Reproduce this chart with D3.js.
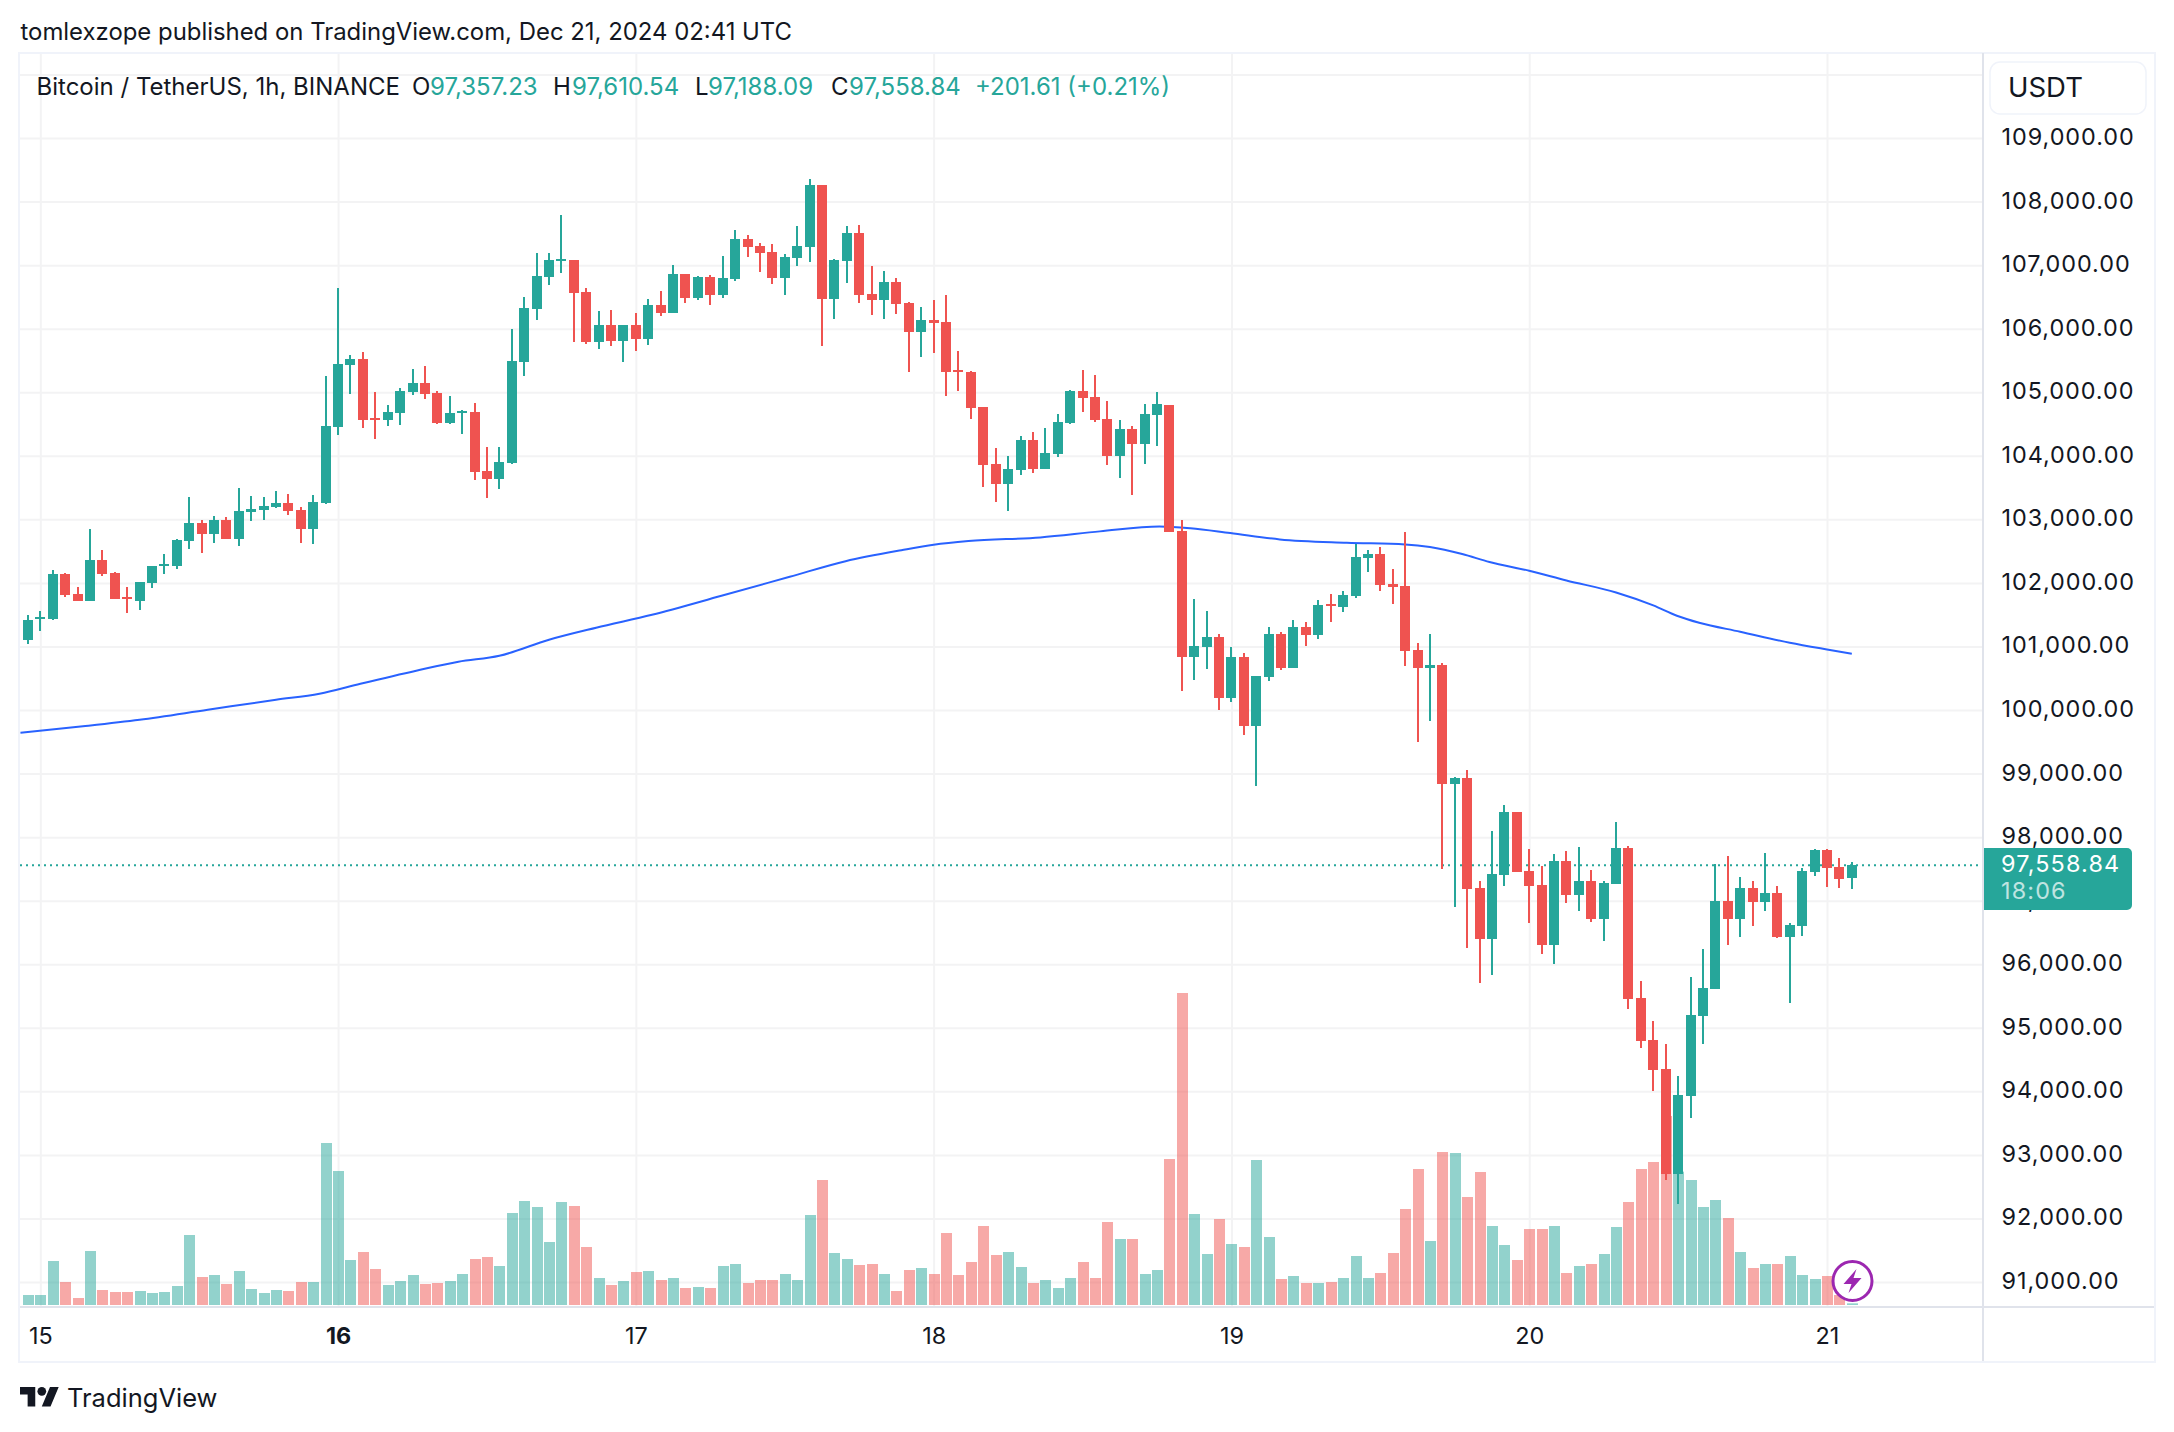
<!DOCTYPE html>
<html><head><meta charset="utf-8">
<script src="https://cdn.jsdelivr.net/npm/d3@7"></script>
<style>
html,body{margin:0;padding:0;background:#fff}
svg{display:block}
text{font-family:Inter,"Noto Sans",sans-serif;fill:#131722}
</style></head><body>
<div id="chart"></div>
<script>
const firstHour = -1;
const opens = [
101099,101429,101429,102136,101822,101712,102356,102152,101775,101712,
101995,102262,102262,102654,102937,102764,102984,102686,103110,103141,
103188,103251,103141,102843,103262,104458,105434,105529,104600,104568,
104679,105009,105151,104993,104521,104679,104694,103766,103640,103892,
105481,106316,106819,107071,107087,106583,105796,106064,105812,106064,
105843,106379,106253,106867,106489,106819,106536,106788,107418,107307,
107213,106804,107118,107292,108268,106473,107071,107512,106552,106457,
106741,106410,105954,106143,106111,105356,105324,104773,103876,103561,
103781,104254,103797,104033,104521,105025,104921,104576,103995,104419,
104183,104639,104796,102817,100838,100995,101152,100193,100838,99754,
100523,101199,100665,101309,101183,101670,101623,101796,102393,102455,
101984,101953,100947,100665,100702,98832,98927,97199,96398,97403,
98393,97466,97246,96303,97623,97089,97309,96712,97262,97827,
95466,94806,94351,92701,93927,95183,95607,96994,96712,97199,
96979,97120,96429,96602,97450,97796,97529,97357.23];
const closes = [
101413,101461,102136,101806,101712,102356,102136,101743,101743,102010,
102262,102293,102670,102937,102764,102984,102686,103126,103157,103204,
103251,103126,102843,103267,104474,105450,105529,104568,104568,104694,
105025,105151,104978,104521,104679,104710,103750,103640,103907,105497,
106331,106835,107087,107103,106568,105796,106064,105812,106064,105843,
106379,106253,106867,106489,106819,106536,106804,107418,107292,107197,
106804,107134,107307,108268,106473,107087,107512,106536,106457,106741,
106394,105954,106143,106095,105324,105324,104757,103860,103561,103797,
104254,103797,104049,104537,105025,104915,104560,103995,104419,104183,
104654,104812,102801,100838,101010,101152,100193,100838,99754,100539,
101199,100665,101309,101183,101654,101638,101811,102408,102455,101968,
101937,100932,100665,100712,98832,98927,97183,96398,97419,98393,
97450,97230,96303,97623,97089,97309,96712,97277,97827,95450,
94790,94335,92701,93942,95199,95623,96994,96712,97199,96979,
97120,96429,96613,97466,97796,97513,97340,97558.84];
const highs = [
101492,101555,102199,102152,101932,102843,102513,102167,101932,102010,
102262,102450,102686,103346,102984,103047,103031,103487,103361,103346,
103440,103393,103188,103377,105261,106646,105592,105639,105009,104805,
105072,105371,105418,105025,104946,104726,104836,104143,104143,106001,
106505,107197,107197,107795,107087,106646,106284,106300,106064,106253,
106473,106599,107008,106867,106835,106851,107150,107559,107481,107355,
107339,107181,107622,108362,108268,107103,107622,107638,106993,106914,
106804,106426,106347,106457,106536,105655,105340,104773,104127,104002,
104317,104380,104443,104663,105041,105356,105277,104859,104560,104466,
104812,105000,104796,102989,101748,101560,101199,100995,100900,100539,
101309,101230,101419,101387,101733,101827,101874,102612,102518,102565,
102220,102801,101057,101199,100733,98942,99052,97309,98094,98503,
98393,97811,97544,97733,97780,97843,97482,97309,98235,97859,
95733,95105,94743,94241,95796,96236,97576,97701,97372,97309,
97749,97230,96644,97513,97811,97811,97670,97610.54];
const lows = [
101036,101241,101413,101775,101712,101712,102105,101743,101523,101571,
101916,102136,102215,102529,102466,102623,102686,102576,102969,102984,
103173,103063,102623,102607,103246,104332,104978,104443,104269,104474,
104490,104962,104899,104505,104505,104348,103624,103341,103482,103876,
105261,106143,106693,106882,105796,105765,105686,105733,105481,105655,
105749,106205,106253,106410,106457,106379,106489,106756,107134,106898,
106709,106536,106993,107056,105733,106158,106725,106410,106221,106158,
106237,105324,105560,105623,104946,105025,104584,103514,103278,103136,
103703,103734,103797,103986,104505,104694,104537,103853,103649,103382,
103869,104152,102801,100303,100476,100649,100005,100130,99612,98811,
100460,100633,100665,101010,101120,101387,101544,101764,102173,101874,
101670,100696,99502,99822,97497,96900,96256,95706,95832,97230,
97450,96649,96162,96005,96963,96837,96665,96366,97262,95293,
94680,94005,92607,92230,93581,94743,95607,96298,96429,96602,
96837,96413,95387,96445,97387,97214,97199,97188.09];
const volumes = [
30,30,132,69,21,162,45,39,39,42,
36,39,57,210,84,90,63,102,48,36,
45,42,69,69,486,402,135,159,108,60,
72,90,63,66,72,93,138,144,117,276,
312,294,189,309,297,174,81,60,72,99,
102,75,81,51,54,51,117,123,66,75,
75,93,75,270,375,156,138,120,123,93,
42,105,111,93,216,90,129,237,150,159,
114,66,75,51,81,129,81,249,198,198,
93,105,438,936,273,153,258,183,174,435,
204,78,87,66,66,69,81,147,81,96,
156,288,408,192,459,456,324,399,237,180,
135,228,228,237,96,117,123,153,234,309,
408,429,567,400,375,294,315,261,159,111,
123,123,147,90,78,87,30,5];
const maHours = [-1.6,3.44,8,13.5,19,22.5,25.8,30.3,33.7,37,41,44.8,49.3,54.9,60.4,64.9,69.4,72,74.8,80.6,85.4,90.2,92.7,95.9,99.9,105.3,110,112,114.6,116.8,120,123,127,130,131.9,133.7,137,141,144,146];
const maValues = [99642,99744,99847,100004,100161,100256,100413,100618,100760,100854,101106,101295,101499,101798,102097,102342,102515,102601,102659,102716,102811,102889,102861,102785,102685,102633,102606,102565,102455,102329,102192,102039,101850,101646,101484,101373,101232,101059,100953,100886];
const priceTicks = [109000,108000,107000,106000,105000,104000,103000,102000,101000,100000,99000,98000,97000,96000,95000,94000,93000,92000,91000];
const gridPrices = [110000].concat(priceTicks);
const dayHours = [0,24,48,72,96,120,144];
const dayLabels = ["15","16","17","18","19","20","21"];
const boldDay = "16";
const lastPrice = 97558.84;
const countdown = "18:06";
const headerText = "tomlexzope published on TradingView.com, Dec 21, 2024 02:41 UTC";
const symbolText = "Bitcoin / TetherUS, 1h, BINANCE";

const W=2174,H=1432;
const L=20,PR=1983,R=2154,T=53,AXY=1307,B=1361;
const UP="#26a69a",DOWN="#ef5350",GRID="#f3f3f4",FRAME="#f0f3fa",SEP="#e0e3eb",INK="#131722";
const x=d3.scaleLinear().domain([0,144]).range([40.3,1827]);
const y=d3.scaleLinear().domain([108000,91000]).range([201.6,1282]);
const vh=d3.scaleLinear().domain([0,936]).range([1305,993]);
const svg=d3.select("#chart").append("svg").attr("width",W).attr("height",H).attr("viewBox",`0 0 ${W} ${H}`);
svg.append("rect").attr("width",W).attr("height",H).attr("fill","#fff");

// grid via axes
const gy=svg.append("g").attr("transform",`translate(${PR},0)`)
 .call(d3.axisLeft(y).tickValues(gridPrices).tickSize(PR-L).tickFormat(""));
gy.select(".domain").remove();
gy.selectAll("line").attr("stroke",GRID).attr("stroke-width",2);
const gx=svg.append("g").attr("transform",`translate(0,${AXY})`)
 .call(d3.axisTop(x).tickValues(dayHours).tickSize(AXY-T).tickFormat(""));
gx.select(".domain").remove();
gx.selectAll("line").attr("stroke",GRID).attr("stroke-width",2);

// volume
const idx=d3.range(opens.length);
const cx=i=>Math.round(x(firstHour+i));
svg.append("g").selectAll("rect").data(idx).join("rect")
 .attr("x",i=>cx(i)-5).attr("width",11)
 .attr("y",i=>vh(volumes[i])).attr("height",i=>vh(0)-vh(volumes[i]))
 .attr("fill",i=>closes[i]>=opens[i]?UP:DOWN).attr("fill-opacity",.5);

// moving average
svg.append("path").attr("fill","none").attr("stroke","#2962ff").attr("stroke-width",2)
 .attr("d",d3.line().x(d=>x(d[0])).y(d=>y(d[1])).curve(d3.curveMonotoneX)(maHours.map((h,i)=>[h,maValues[i]])));

// last price line
svg.append("line").attr("x1",L).attr("x2",PR).attr("y1",y(lastPrice)).attr("y2",y(lastPrice))
 .attr("stroke",UP).attr("stroke-width",2).attr("stroke-dasharray","2 4");

// candles
const cg=svg.append("g").attr("shape-rendering","crispEdges");
cg.selectAll("rect.w").data(idx).join("rect").attr("class","w")
 .attr("x",i=>cx(i)-1).attr("width",2)
 .attr("y",i=>Math.round(y(highs[i]))).attr("height",i=>Math.max(1,Math.round(y(lows[i]))-Math.round(y(highs[i]))))
 .attr("fill",i=>closes[i]>=opens[i]?UP:DOWN);
cg.selectAll("rect.b").data(idx).join("rect").attr("class","b")
 .attr("x",i=>cx(i)-5).attr("width",10)
 .attr("y",i=>Math.round(y(Math.max(opens[i],closes[i]))))
 .attr("height",i=>Math.max(2,Math.round(y(Math.min(opens[i],closes[i])))-Math.round(y(Math.max(opens[i],closes[i])))))
 .attr("fill",i=>closes[i]>=opens[i]?UP:DOWN);

// frame
const fr=svg.append("g").attr("shape-rendering","crispEdges");
fr.append("rect").attr("x",L-1).attr("y",T).attr("width",R-L+2).attr("height",B-T+1).attr("fill","none").attr("stroke",FRAME).attr("stroke-width",2);
fr.append("line").attr("x1",PR).attr("x2",PR).attr("y1",T).attr("y2",B).attr("stroke",SEP).attr("stroke-width",2);
fr.append("line").attr("x1",L).attr("x2",R).attr("y1",AXY).attr("y2",AXY).attr("stroke",SEP).attr("stroke-width",2);

// price axis
const ay=svg.append("g").attr("transform","translate(2001.5,-1)")
 .call(d3.axisRight(y).tickValues(priceTicks).tickSize(0).tickPadding(0).tickFormat(d3.format(",.2f")));
ay.select(".domain").remove();
ay.selectAll("text").attr("font-size",23.4).attr("letter-spacing",0.95).style("fill",INK);

// time axis
const ax=svg.append("g").attr("transform",`translate(0,1336)`)
 .call(d3.axisBottom(x).tickValues(dayHours).tickSize(0).tickPadding(0).tickFormat((d,i)=>dayLabels[i]));
ax.select(".domain").remove();
ax.selectAll("text").attr("font-size",23.4).attr("dy","0.35em").attr("y",0)
 .attr("font-weight",(d,i)=>dayLabels[i]===boldDay?700:400).style("fill",INK);
svg.selectAll("g").attr("font-family",null);

// last price tag
svg.append("path").attr("d","M1984 848H2127a5 5 0 0 1 5 5V905a5 5 0 0 1 -5 5H1984Z").attr("fill",UP);
svg.append("text").attr("x",2001).attr("y",864).attr("dy","0.35em").attr("font-size",23.4).attr("letter-spacing",1.15).style("fill","#fff").text(d3.format(",.2f")(lastPrice));
svg.append("text").attr("x",2001).attr("y",891).attr("dy","0.35em").attr("font-size",23.4).attr("letter-spacing",1.15).style("fill","#fff").style("opacity",.7).text(countdown);

// unit button
svg.append("rect").attr("x",1990).attr("y",62).attr("width",156).attr("height",52).attr("rx",10).attr("fill","#fff").attr("stroke",FRAME).attr("stroke-width",1.5);
svg.append("text").attr("x",2008).attr("y",87).attr("dy","0.35em").attr("font-size",27.5).text("USDT");

// header & legend
svg.append("text").attr("x",20.5).attr("y",32).attr("dy","0.35em").attr("font-size",23.9).text(headerText);
const ly=86.5;
const leg=(xp,t,c)=>svg.append("text").attr("x",xp).attr("y",ly).attr("dy","0.35em").attr("font-size",24).style("fill",c||INK).text(t);
leg(36.5,symbolText);
leg(412,"O");leg(430,"97,357.23",UP);
leg(553,"H");leg(572,"97,610.54",UP);
leg(695,"L");leg(708,"97,188.09",UP);
leg(831,"C");leg(849,"97,558.84",UP);
leg(975,"+201.61 (+0.21%)",UP);

// logo
const logo=svg.append("g").attr("transform","translate(20,1382.6) scale(1.09)").attr("fill",INK);
logo.append("path").attr("d","M14 22H7V11H0V4h14v18zM28 22h-8l7.5-18h8L28 22z");
logo.append("circle").attr("cx",20).attr("cy",8).attr("r",4);
svg.append("text").attr("x",67).attr("y",1398).attr("dy","0.35em").attr("font-size",25.5).text("TradingView");

// bolt badge
const bolt=svg.append("g").attr("transform","translate(1852.5,1281)");
bolt.append("circle").attr("r",19.5).attr("fill","#fff").attr("stroke","#9c27b0").attr("stroke-width",3);
bolt.append("path").attr("d","M4 -12L-9 3H-1L-4 12L9 -3H1Z").attr("fill","#9c27b0");
</script>
</body></html>
